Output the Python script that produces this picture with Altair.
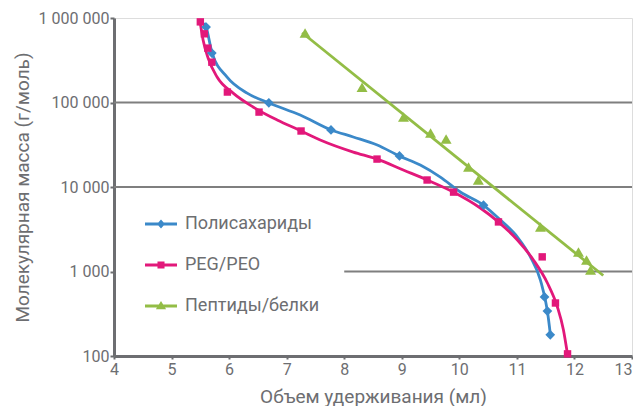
import altair as alt
import pandas as pd

# ---------------- data ----------------
series_names = ["Полисахариды", "PEG/PEO", "Пептиды/белки"]
series_colors = ["#3b89c9", "#e2187a", "#93bd46"]

# measured points
poly_v = [5.60, 5.70, 6.69, 7.77, 8.96, 10.42, 11.48, 11.53, 11.58]
poly_m = [782000, 385000, 99000, 47300, 23300, 6100, 500, 340, 178]

peg_v = [5.50, 5.57, 5.63, 5.70, 5.97, 6.52, 7.25, 8.57, 9.44, 9.90, 10.68, 11.44, 11.67, 11.88]
peg_m = [900000, 650000, 440000, 300000, 133000, 77000, 46000, 21400, 12100, 8700, 3860, 1490, 424, 106]

pep_v = [7.32, 8.31, 9.03, 9.50, 9.77, 10.16, 10.33, 11.41, 12.07, 12.21, 12.28]
pep_m = [664000, 152000, 67300, 43500, 37000, 17300, 12100, 3370, 1700, 1370, 1040]

# calibration curves
poly_curve_v = [5.565, 5.60, 5.704, 5.965, 6.313, 6.696, 7.235, 7.774, 8.157, 8.574,
                8.957, 9.322, 9.670, 10.017, 10.417, 10.713, 11.009, 11.235, 11.409,
                11.530, 11.583]
poly_curve_m = [873000, 782000, 385000, 200000, 129000, 98600, 71100, 47300, 39100, 31400,
                23300, 18200, 13100, 8730, 6120, 4070, 2560, 1490, 792, 341, 177]

peg_curve_v = [5.496, 5.548, 5.635, 5.791, 6.070, 6.417, 6.835, 7.252, 7.583, 8.157,
               8.574, 9.026, 9.443, 9.896, 10.365, 10.678, 11.009, 11.287, 11.530,
               11.704, 11.809, 11.878]
peg_curve_m = [898000, 550000, 336000, 200000, 129000, 88500, 62100, 46000, 36000, 25900,
               21400, 15900, 12100, 8730, 5640, 3860, 2360, 1370, 731, 380, 203, 106]

# peptide line: linear fit of log M over this volume range
pep_fit_extent = [7.27, 12.50]

# horizontal grid lines (value, start, end)
grid_m = [100000, 10000, 1000]
grid_v0 = [4, 4, 8]
grid_v1 = [13, 13, 13]

x_ticks = [4, 5, 6, 7, 8, 9, 10, 11, 12, 13]
y_ticks = [100, 1000, 10000, 100000, 1000000]

x_title = "Объем удерживания (мл)"
y_title = "Молекулярная масса (г/моль)"

# ---------------- styles ----------------
FONT = "Roboto"
TXT = "#6d6e71"
AXC = "#6d6e71"
GRIDC = "#7f7f7f"

point_shapes = ["diamond", "square", "triangle-up"]
point_sizes = [95, 55, 120]

legend_paths = [
    "M-1,-0.09L1,-0.09L1,0.09L-1,0.09ZM0,-0.28L0.25,0L0,0.28L-0.25,0Z",
    "M-1,-0.09L1,-0.09L1,0.09L-1,0.09ZM-0.22,-0.22L0.22,-0.22L0.22,0.22L-0.22,0.22Z",
    "M-1,-0.09L1,-0.09L1,0.09L-1,0.09ZM0,-0.32L0.32,0.2L-0.32,0.2Z",
]

x_scale = alt.Scale(domain=[4, 13], nice=False, zero=False)
y_scale = alt.Scale(type="log", domain=[100, 1000000], nice=False)

x_axis = alt.Axis(
    values=x_ticks, format="d", title=x_title, grid=False,
    labelFont=FONT, labelFontSize=16, labelColor=TXT, labelPadding=2,
    labelFlush=False, labelOverlap=False,
    labelAlign={"condition": {"test": "datum.value == 13", "value": "right"}, "value": "center"},
    tickSize=3, tickWidth=2, tickColor=AXC,
    domainColor=AXC, domainWidth=3,
    titleFont=FONT, titleFontSize=19, titleFontWeight="normal",
    titleColor=TXT, titlePadding=10,
)
y_axis = alt.Axis(
    values=y_ticks, title=y_title, grid=False,
    labelExpr="replace(replace(format(datum.value, ','), ',', ' '), ',', ' ')",
    labelFont=FONT, labelFontSize=16, labelColor=TXT, labelPadding=1,
    labelOverlap=False,
    tickSize=4, tickWidth=2, tickColor=AXC,
    domainColor=AXC, domainWidth=3,
    titleFont=FONT, titleFontSize=19, titleFontWeight="normal",
    titleColor=TXT, titlePadding=6,
)

X = lambda f: alt.X(f, type="quantitative", scale=x_scale, axis=x_axis)
Y = lambda f: alt.Y(f, type="quantitative", scale=y_scale, axis=y_axis)

# ---------------- layers ----------------
grid_df = pd.DataFrame({"M": grid_m, "V0": grid_v0, "V1": grid_v1})
grid_layer = alt.Chart(grid_df).mark_rule(color=GRIDC, strokeWidth=2).encode(
    x=X("V0"), x2="V1", y=Y("M")
)

layers = [grid_layer]

curve_sets = [(poly_curve_v, poly_curve_m), (peg_curve_v, peg_curve_m)]
for i, (cv, cm) in enumerate(curve_sets):
    cdf = pd.DataFrame({"V": cv, "M": cm})
    layers.append(
        alt.Chart(cdf).mark_line(color=series_colors[i], strokeWidth=2.8,
                                 interpolate="monotone", clip=True)
        .encode(x=X("V"), y=Y("M"))
    )

pep_df = pd.DataFrame({"V": pep_v, "M": pep_m})
layers.append(
    alt.Chart(pep_df)
    .transform_calculate(logM="log(datum.M) / LN10")
    .transform_regression("V", "logM", method="linear", extent=pep_fit_extent)
    .transform_calculate(M="pow(10, datum.logM)")
    .mark_line(color=series_colors[2], strokeWidth=2.8, clip=True)
    .encode(x=X("V"), y=Y("M"))
)

all_v = [poly_v, peg_v, pep_v]
all_m = [poly_m, peg_m, pep_m]
for i in range(3):
    df = pd.DataFrame({"V": all_v[i], "M": all_m[i]})
    layers.append(
        alt.Chart(df).mark_point(
            shape=point_shapes[i], size=point_sizes[i], filled=True, opacity=1,
            color=series_colors[i], strokeWidth=0,
        ).encode(x=X("V"), y=Y("M"))
    )

legend_obj = alt.Legend(
    title=None, orient="none", legendX=31, legendY=190, padding=0,
    labelFont=FONT, labelFontSize=18, labelColor=TXT, labelOffset=8,
    symbolSize=1024, symbolStrokeWidth=0, symbolOpacity=1, rowPadding=16,
)
legend_df = pd.DataFrame({"series": series_names})
legend_layer = (
    alt.Chart(legend_df)
    .transform_filter("false")
    .mark_point(filled=True, opacity=1, size=1024)
    .encode(
        color=alt.Color("series:N", scale=alt.Scale(domain=series_names, range=series_colors), legend=legend_obj),
        shape=alt.Shape("series:N", scale=alt.Scale(domain=series_names, range=legend_paths), legend=legend_obj),
    )
)
layers.append(legend_layer)

chart = (
    alt.layer(*layers)
    .properties(
        width=518, height=338,
        autosize=alt.AutoSizeParams(type="none"),
        padding={"left": 106, "top": 10, "right": 1, "bottom": 50},
    )
    .configure_view(stroke=GRIDC, strokeWidth=2)
    .configure(font=FONT)
)

chart.save("out.html", embed_options={"renderer": "svg", "actions": False})
